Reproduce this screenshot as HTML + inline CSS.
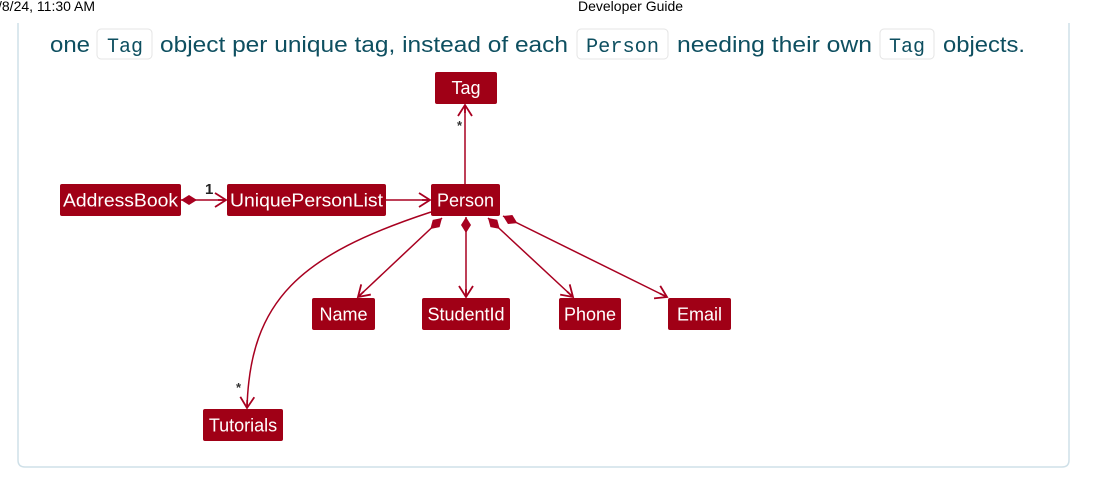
<!DOCTYPE html>
<html><head><style>
html,body{margin:0;padding:0;background:#fff;width:1106px;height:486px;overflow:hidden}
</style></head><body>
<svg width="1106" height="486" viewBox="0 0 1106 486" xmlns="http://www.w3.org/2000/svg" font-family="Liberation Sans, Arial, sans-serif">
<defs>
<marker id="ar" markerWidth="16" markerHeight="16" refX="12" refY="8" orient="auto" markerUnits="userSpaceOnUse">
<path d="M1,1 L12,8 L1,15 M12,8 L4,8" fill="none" stroke="#a80020" stroke-width="1.8"/>
</marker>
<marker id="dm" markerWidth="20" markerHeight="12" refX="1" refY="6" orient="auto" markerUnits="userSpaceOnUse">
<path d="M1,6 L9,1 L17,6 L9,11 Z" fill="#a80020"/>
</marker>
</defs>
<text x="-2" y="11" font-size="14" fill="#000">/8/24, 11:30 AM</text>
<text x="578" y="11" font-size="14" fill="#000">Developer Guide</text>
<path d="M18,23 V460 Q18,467 25,467 H1062 Q1069,467 1069,460 V23" fill="none" stroke="#cfe0e8" stroke-width="1.5"/>
<g font-size="22" fill="#0e4f60">
<rect x="97" y="29" width="55" height="30" rx="4" fill="#fff" stroke="#e4e4e4"/>
<rect x="577" y="29" width="91" height="30" rx="4" fill="#fff" stroke="#e4e4e4"/>
<rect x="880" y="29" width="54" height="30" rx="4" fill="#fff" stroke="#e4e4e4"/>
<text x="50" y="52" textLength="40" lengthAdjust="spacingAndGlyphs">one</text>
<text x="107" y="52" font-family="Liberation Mono, monospace" font-size="20" textLength="36" lengthAdjust="spacingAndGlyphs">Tag</text>
<text x="160" y="52" textLength="408" lengthAdjust="spacingAndGlyphs">object per unique tag, instead of each</text>
<text x="586" y="52" font-family="Liberation Mono, monospace" font-size="20" textLength="73" lengthAdjust="spacingAndGlyphs">Person</text>
<text x="677" y="52" textLength="195" lengthAdjust="spacingAndGlyphs">needing their own</text>
<text x="889" y="52" font-family="Liberation Mono, monospace" font-size="20" textLength="36" lengthAdjust="spacingAndGlyphs">Tag</text>
<text x="943" y="52" textLength="82" lengthAdjust="spacingAndGlyphs">objects.</text>
</g>
<g stroke="#a80020" stroke-width="1.5" fill="none">
<line x1="465" y1="184" x2="465" y2="105" marker-end="url(#ar)"/>
<line x1="181" y1="200" x2="226" y2="200" marker-start="url(#dm)" marker-end="url(#ar)"/>
<line x1="386" y1="200" x2="430" y2="200" marker-end="url(#ar)"/>
<line x1="442" y1="218" x2="358" y2="297" marker-start="url(#dm)" marker-end="url(#ar)"/>
<line x1="466" y1="217" x2="466" y2="297" marker-start="url(#dm)" marker-end="url(#ar)"/>
<line x1="488" y1="218" x2="573" y2="297" marker-start="url(#dm)" marker-end="url(#ar)"/>
<line x1="503" y1="216" x2="667" y2="297" marker-start="url(#dm)" marker-end="url(#ar)"/>
<path d="M431,212 C300,255 250,300 247,408" marker-end="url(#ar)"/>
</g>
<text x="457" y="130" font-size="13" font-weight="bold" fill="#333">*</text>
<text x="205" y="194" font-size="15" font-weight="bold" fill="#222">1</text>
<text x="236" y="392" font-size="13" font-weight="bold" fill="#333">*</text>
<g fill="#a00016">
<rect x="435" y="72" width="62" height="32" rx="2"/>
<rect x="60" y="184" width="121" height="32" rx="2"/>
<rect x="227" y="184" width="159" height="32" rx="2"/>
<rect x="431" y="184" width="69" height="32" rx="2"/>
<rect x="312" y="298" width="63" height="32" rx="2"/>
<rect x="422" y="298" width="88" height="32" rx="2"/>
<rect x="559" y="298" width="62" height="32" rx="2"/>
<rect x="668" y="298" width="63" height="32" rx="2"/>
<rect x="203" y="409" width="80" height="32" rx="2"/>
</g>
<g fill="#fff" font-size="18" text-anchor="middle">
<text x="466" y="94">Tag</text>
<text x="120.5" y="206.5" textLength="115" lengthAdjust="spacingAndGlyphs">AddressBook</text>
<text x="306.5" y="206.5" textLength="153" lengthAdjust="spacingAndGlyphs">UniquePersonList</text>
<text x="465.5" y="206.5">Person</text>
<text x="343.5" y="320.5">Name</text>
<text x="466" y="320.5">StudentId</text>
<text x="590" y="320.5">Phone</text>
<text x="699.5" y="320.5">Email</text>
<text x="243" y="431.5">Tutorials</text>
</g>
</svg>
</body></html>
